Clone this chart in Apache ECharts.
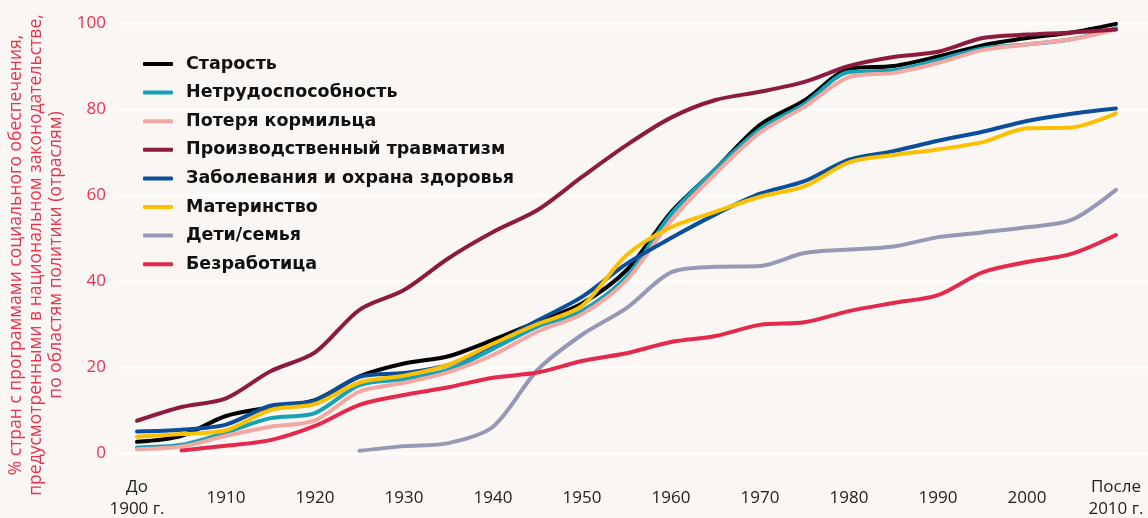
<!DOCTYPE html>
<html><head><meta charset="utf-8">
<style>html,body{margin:0;padding:0;background:#f9f6f3;}#c{width:1148px;height:518px;}</style>
<script src="https://cdn.jsdelivr.net/npm/echarts@6/dist/echarts.min.js"></script>
</head><body><div id="c"></div>
<script>
const years = [1900,1905,1910,1915,1920,1925,1930,1935,1940,1945,1950,1955,1960,1965,1970,1975,1980,1985,1990,1995,2000,2005,2010];
const tickValues = [1900,1910,1920,1930,1940,1950,1960,1970,1980,1990,2000,2010];
const tickLabels = ['До\n1900 г.','1910','1920','1930','1940','1950','1960','1970','1980','1990','2000','После\n2010 г.'];
const seriesNames = ['Старость','Нетрудоспособность','Потеря кормильца','Производственный травматизм','Заболевания и охрана здоровья','Материнство','Дети/семья','Безработица'];
const oldAge     = [2.6,4.0,8.6,10.6,12.3,17.8,20.8,22.5,26.3,30.5,34.8,42.5,56,66,76.3,82,89.3,90,92.2,94.8,96.5,97.8,99.8];
const disability = [1.3,1.9,4.8,8.1,9.3,15.8,17.2,19.4,24.2,29.4,33,41,55.5,66,75.3,81.2,88.6,89,91.4,94.1,95,96.2,98.8];
const survivors  = [0.9,1.5,4.0,6.1,7.6,14.3,16.3,18.8,22.8,28.2,32.3,40.2,54,65,74.5,80.5,87.4,88.4,90.7,93.7,95,96.2,98.5];
const injury     = [7.5,10.7,12.7,19,23.4,33.3,37.9,45.3,51.4,56.5,64.2,71.6,78,82.1,84,86.3,90,92.1,93.3,96.5,97.3,97.8,98.5];
const sickness   = [5.0,5.4,6.6,11.0,12.2,17.7,18.6,20.5,25.2,30.8,36.3,44,50,55.5,60.3,63.2,68.2,70.2,72.6,74.7,77.2,78.9,80.1];
const maternity  = [3.8,4.4,5.3,10,11.4,16.4,18,20.5,25.4,30,34.2,46,52.5,56.1,59.6,62,67.6,69.3,70.6,72.3,75.5,75.7,79];
const family     = [null,null,null,null,null,0.5,1.6,2.3,6.1,19.3,27.5,33.7,42,43.3,43.5,46.5,47.3,48,50.2,51.3,52.5,54.2,61.2];
const unemploy   = [null,0.6,1.7,3,6.3,11.2,13.5,15.3,17.5,18.7,21.4,23.2,25.8,27.2,29.8,30.4,33,34.9,36.7,42,44.4,46.3,50.7];
const colors = ['#000000','#16a2b6','#f4a7a1','#8c1b3d','#0b4f9c','#fcc000','#9698b5','#e5294c'];
const allData = [oldAge,disability,survivors,injury,sickness,maternity,family,unemploy];

const FONT = '"Open Sans", "Noto Sans", sans-serif';
const chart = echarts.init(document.getElementById('c'), null, {renderer:'canvas'});
chart.setOption({
  backgroundColor:'#f9f6f3',
  animation:false,
  grid:{left:118,right:0,top:23,bottom:65,containLabel:false,outerBoundsMode:'none'},
  legend:{
    orient:'vertical', left:143, top:55, padding:0, itemWidth:30, itemHeight:4, itemGap:10.6, icon:'roundRect',
    textStyle:{fontFamily:'"DejaVu Sans", sans-serif', fontSize:17.5, fontWeight:'bold', color:'#111', padding:[0,0,0,8], lineHeight:17},
    data:seriesNames
  },
  xAxis:{
    type:'value', min:1897.865, max:2013.6,
    axisLine:{show:false}, axisTick:{show:false}, splitLine:{show:false},
    axisLabel:{
      customValues:tickValues, margin:45, verticalAlign:'middle',
      fontFamily:FONT, fontSize:17, color:'#222', lineHeight:22,
      formatter:function(v){const i=tickValues.indexOf(v); return i>=0?tickLabels[i]:'';}
    }
  },
  yAxis:{
    type:'value', min:0, max:100, interval:20,
    axisLine:{show:false}, axisTick:{show:false},
    splitLine:{lineStyle:{color:'#ffffff', width:2.5}},
    axisLabel:{fontFamily:FONT, fontSize:17, color:'#e8334f', margin:12},
    name:'% стран с программами социального обеспечения,\nпредусмотренными в национальном законодательстве,\nпо областям политики (отраслям)',
    nameLocation:'middle', nameGap:48, nameRotate:90,
    nameTextStyle:{fontFamily:FONT, fontSize:17.5, color:'#e8334f', lineHeight:20, align:'center', padding:[0,34,0,0]}
  },
  series: seriesNames.map((n,i)=>({
    name:n, type:'line', smooth:0.3, symbol:'none', color:colors[i],
    lineStyle:{width:4, color:colors[i], cap:'round', join:'round'},
    data: years.map((y,j)=> allData[i][j]==null ? null : [y, allData[i][j]])
  }))
});
</script></body></html>
